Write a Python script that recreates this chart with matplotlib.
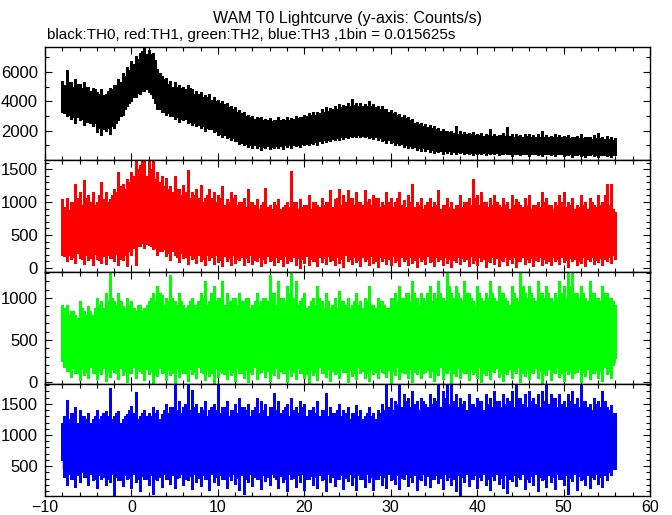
import numpy as np
import matplotlib
matplotlib.use("Agg")
import matplotlib.pyplot as plt
from matplotlib.ticker import MultipleLocator

plt.rcParams['font.family'] = ['Liberation Sans', 'DejaVu Sans']

# ---------------- data ----------------
# spike envelopes every 0.5 s (max / min in each slot), t = -8 ... 56
spike_t = np.arange(-8.0, 56.001, 0.5)
# secondary spikes between them, t = -7.75 ... 55.75
mid_t = np.arange(-7.75, 55.76, 0.5)
# dense core band every 2 s
core_t = np.arange(-8.0, 56.001, 2.0)

# ---- TH0 (black) ----
th0_hi = [5400, 6100, 5300, 5500, 5200, 5300, 5000, 4900, 4600, 4800,
          4500, 4900, 5100, 5500, 5900, 6300, 6700, 7100, 7300, 7650,
          7500, 7300, 6200, 5700, 5600, 5400, 5300, 5100, 5000, 5100,
          4800, 4700, 4600, 4400, 4500, 4300, 4100, 4000, 3900, 3700,
          3600, 3400, 3300, 3100, 3000, 2900, 2950, 2800, 2850, 2750,
          2900, 2800, 2900, 2850, 3000, 2950, 3100, 3200, 3300, 3250,
          3500, 3600, 3550, 3700, 3800, 3750, 3900, 4150, 3850, 3900,
          3800, 4050, 3800, 3700, 3650, 3500, 3400, 3300, 3150, 3050,
          2900, 2800, 2600, 2500, 2450, 2400, 2300, 2200, 2100, 2000,
          2000, 2300, 1950, 1900, 1850, 1900, 1800, 1850, 1750, 2100,
          1800, 1700, 1850, 2250, 1750, 1800, 1700, 1750, 1800, 1700,
          1750, 1950, 1700, 1650, 1750, 1700, 1650, 1700, 1600, 1650,
          1750, 1600, 1550, 1700, 1850, 1600, 1650, 1550, 1500]
th0_lo = [3300, 3000, 2800, 2500, 2700, 2400, 2600, 2300, 1900, 1700,
          2000, 1800, 2200, 2700, 3100, 3700, 4000, 4300, 4500, 4700,
          4600, 4200, 3500, 3300, 3100, 3000, 2800, 2600, 2700, 2500,
          2400, 2300, 2200, 2000, 2100, 1900, 1700, 1600, 1500, 1400,
          1300, 1100, 1000, 900, 850, 800, 700, 850, 750, 800,
          850, 750, 900, 800, 950, 900, 1000, 1050, 1100, 1050,
          1200, 1250, 1300, 1350, 1400, 1450, 1500, 1550, 1600, 1550,
          1600, 1500, 1450, 1400, 1300, 1200, 1150, 1050, 1000, 900,
          850, 800, 700, 650, 600, 550, 500, 550, 450, 500,
          400, 450, 500, 400, 450, 350, 450, 400, 350, 450,
          400, 350, 450, 400, 300, 400, 350, 450, 300, 400,
          350, 300, 400, 350, 300, 400, 300, 350, 250, 350,
          300, 250, 350, 300, 250, 350, 300, 250, 350]
th0_mid_hi = [5100, 5300, 5000, 5200, 4900, 5000, 4700, 4800, 4500, 4400,
              4700, 4800, 5100, 5300, 5700, 6100, 6500, 6900, 7400, 7200,
              7200, 6800, 5900, 5500, 5200, 5000, 5000, 4900, 4800, 4900,
              4500, 4500, 4300, 4300, 4100, 4000, 3900, 3800, 3600, 3500,
              3300, 3200, 3000, 2900, 2800, 2850, 2700, 2700, 2650, 2700,
              2700, 2750, 2700, 2800, 2850, 2900, 3000, 3050, 3100, 3200,
              3300, 3350, 3450, 3500, 3600, 3700, 3650, 3750, 3700, 3650,
              3700, 3650, 3600, 3500, 3450, 3300, 3200, 3100, 2950, 2850,
              2700, 2550, 2450, 2350, 2250, 2200, 2100, 2000, 1950, 1900,
              1850, 1800, 1800, 1750, 1750, 1700, 1700, 1650, 1700, 1650,
              1650, 1700, 1650, 1650, 1600, 1650, 1600, 1650, 1600, 1600,
              1600, 1550, 1600, 1550, 1550, 1600, 1550, 1500, 1550, 1500,
              1500, 1550, 1450, 1500, 1500, 1450, 1450, 1400]
th0_mid_lo = [3200, 3100, 2900, 2900, 2800, 2600, 2500, 2500, 2200, 2100,
              2200, 2300, 2500, 3000, 3500, 3900, 4300, 4600, 4800, 4800,
              4500, 3900, 3500, 3300, 3200, 3000, 2900, 2800, 2800, 2600,
              2500, 2400, 2300, 2200, 2100, 2000, 1800, 1700, 1600, 1500,
              1300, 1200, 1100, 1000, 1000, 950, 900, 950, 900, 950,
              950, 1000, 1000, 1000, 1050, 1100, 1100, 1200, 1250, 1300,
              1350, 1400, 1450, 1500, 1550, 1600, 1650, 1650, 1700, 1650,
              1650, 1600, 1550, 1500, 1400, 1350, 1250, 1200, 1100, 1050,
              950, 900, 850, 800, 750, 700, 650, 650, 600, 600,
              550, 550, 550, 500, 500, 500, 500, 480, 480, 500,
              480, 450, 480, 450, 450, 430, 450, 430, 420, 450,
              420, 400, 420, 400, 420, 400, 380, 400, 380, 400,
              380, 380, 400, 360, 380, 360, 380, 360]
th0_core_hi = [4900, 4700, 4200, 4500, 6100, 6900, 4900, 4600, 4200, 3700,
               3200, 2600, 2450, 2550, 2750, 3100, 3350, 3450, 3350, 3000,
               2550, 2150, 1800, 1650, 1600, 1550, 1550, 1500, 1500, 1450,
               1400, 1400, 1350]
th0_core_lo = [3600, 3100, 2600, 2800, 4300, 4900, 3500, 3100, 2700, 2100,
               1600, 1200, 1100, 1200, 1300, 1500, 1700, 1800, 1700, 1450,
               1150, 900, 750, 650, 600, 600, 550, 550, 520, 500,
               500, 480, 480]

# ---- TH1 (red) ----
th1_hi = [1050, 1060, 1000, 1280, 1150, 1330, 1100, 1150, 1000, 1300,
          1150, 1050, 1200, 1450, 1280, 1350, 1450, 1650, 1560, 1650,
          1650, 1650, 1450, 1400, 1360, 1250, 1400, 1200, 1260, 1480,
          1160, 1200, 1260, 1060, 1200, 1150, 1100, 1250, 1050, 1150,
          1100, 1000, 1060, 1200, 1000, 1050, 960, 1210, 950, 1000,
          1050, 930, 1000, 1470, 1000, 1050, 960, 1100, 1000, 950,
          1060, 1000, 1180, 1050, 1200, 1100, 1180, 1060, 1150, 1000,
          1180, 1050, 1100, 1060, 1000, 1150, 1060, 1000, 1150, 1030,
          1100, 1270, 1000, 1060, 950, 1060, 1000, 1180, 950, 1060,
          1000, 960, 1100, 1000, 1060, 1350, 1100, 1160, 1000, 1060,
          1100, 960, 1060, 1000, 1100, 1050, 960, 1060, 1100, 950,
          1000, 1150, 1060, 960, 1000, 1100, 1160, 1000, 1060, 950,
          1100, 1000, 1060, 960, 1100, 1000, 1280, 1280, 850]
th1_lo = [200, 100, 130, 70, 150, 60, 120, 50, 140, 80,
          60, 150, 100, 50, 120, 30, 200, 40, 330, 300,
          350, 280, 200, 250, 180, 120, 200, 90, 150, 60,
          130, 80, 100, 40, 120, 60, 90, 30, 110, 50,
          80, 120, 40, 90, 60, 100, 30, 80, 110, 50,
          90, 30, 70, 100, 40, 0, 80, 50, 100, 30,
          90, 60, 110, 40, 80, 20, 100, 60, 90, 30,
          110, 50, 80, 20, 100, 60, 40, 90, 30, 110,
          50, 80, 20, 100, 60, 90, 30, 110, 40, 80,
          10, 90, 60, 100, 30, 80, 50, 110, 20, 90,
          60, 30, 100, 50, 80, 20, 110, 60, 90, 30,
          100, 50, 80, 40, 110, 60, 90, 20, 100, 50,
          80, 30, 110, 60, 90, 40, 100, 70, 130]
th1_mid_hi = [920, 880, 1000, 1060, 960, 1060, 1000, 960, 1100, 1050,
              1000, 1100, 1160, 1250, 1200, 1300, 1400, 1500, 1650, 1400,
              1500, 1350, 1300, 1250, 1200, 1160, 1200, 1100, 1150, 1060,
              1100, 1060, 1000, 1100, 1060, 1000, 1060, 960, 1000, 1060,
              960, 1000, 930, 1000, 960, 900, 1000, 930, 900, 960,
              900, 960, 930, 1000, 900, 930, 960, 900, 1000, 930,
              960, 1000, 930, 1060, 960, 1000, 1060, 960, 1000, 960,
              1000, 960, 1060, 930, 960, 1000, 930, 1060, 960, 930,
              1000, 930, 960, 900, 1000, 930, 960, 900, 960, 930,
              900, 960, 930, 1000, 960, 1060, 960, 1000, 930, 960,
              1000, 930, 960, 900, 960, 1000, 930, 960, 900, 960,
              930, 1000, 960, 900, 960, 1000, 930, 960, 900, 930,
              960, 900, 1000, 930, 960, 1100, 960, 900]
th1_mid_lo = [180, 200, 160, 220, 130, 190, 150, 210, 120, 180,
              200, 150, 210, 130, 190, 250, 300, 330, 380, 370,
              330, 300, 260, 280, 220, 250, 170, 230, 160, 200,
              150, 200, 130, 190, 160, 200, 120, 180, 150, 190,
              130, 170, 150, 190, 120, 170, 140, 180, 120, 160,
              140, 180, 120, 170, 150, 130, 180, 140, 110, 170,
              150, 180, 120, 160, 140, 190, 130, 170, 120, 160,
              140, 180, 110, 170, 150, 130, 180, 120, 160, 140,
              170, 120, 160, 140, 180, 110, 160, 130, 170, 140,
              120, 170, 150, 130, 180, 120, 160, 140, 110, 170,
              150, 120, 170, 140, 160, 110, 170, 130, 150, 120,
              160, 140, 110, 170, 130, 160, 120, 150, 140, 110,
              170, 130, 160, 120, 150, 140, 160, 200]
th1_core_hi = [800, 850, 850, 900, 1050, 1150, 1000, 950, 900, 880,
               850, 820, 800, 820, 800, 820, 850, 860, 850, 840,
               830, 800, 800, 800, 820, 800, 800, 790, 790, 790,
               780, 780, 750]
th1_core_lo = [300, 280, 280, 300, 400, 430, 350, 300, 280, 270,
               260, 250, 250, 250, 250, 250, 260, 260, 260, 250,
               250, 240, 240, 240, 240, 240, 240, 240, 230, 230,
               230, 230, 250]

# ---- TH2 (green) ----
th2_hi = [920, 920, 840, 800, 960, 840, 900, 800, 1000, 960,
          1060, 1315, 960, 1060, 900, 1000, 960, 840, 920, 880,
          960, 1060, 1140, 1040, 1000, 1280, 960, 1060, 920, 920,
          1000, 920, 1060, 1200, 960, 1140, 1000, 1200, 1060, 960,
          1000, 1060, 960, 1000, 920, 1060, 960, 1000, 1280, 1060,
          1200, 1000, 1140, 1315, 1200, 960, 1060, 900, 1000, 1140,
          960, 1060, 880, 1000, 1080, 960, 1000, 920, 1060, 960,
          1000, 1140, 920, 1000, 960, 880, 1000, 1060, 1140, 1000,
          1060, 1200, 1000, 1060, 960, 1140, 1060, 1200, 1000, 1315,
          1060, 1140, 1000, 1200, 1060, 960, 1140, 1000, 1060, 1200,
          1000, 1140, 1060, 960, 1140, 1000, 1315, 1060, 1140, 1000,
          1200, 1060, 1140, 1000, 1060, 1200, 1140, 1315, 1315, 1060,
          1140, 1000, 1200, 1060, 1000, 1140, 1060, 1000, 920]
th2_lo = [250, 130, 60, 100, 20, 80, 40, 110, 30, 90,
          10, 60, 120, 30, 80, 0, 100, 50, 130, 20,
          90, -30, 70, 110, 20, 80, -30, 60, 100, 10,
          90, 40, 120, 20, 70, -30, 60, 100, 30, 80,
          10, 110, 50, 0, 90, 30, 120, 60, 10, 80,
          40, 100, 0, 70, 30, 110, 50, -30, 80, 20,
          100, 60, 10, 90, 40, 120, 0, 70, 30, 100,
          50, 10, 90, 40, 120, 60, -30, 80, 30, 110,
          50, 0, 90, 40, 120, 60, 10, 80, 30, 100,
          -20, 70, 40, 110, 20, 90, 50, 0, 80, 30,
          120, 60, 10, 90, 40, 110, 0, 70, 30, 100,
          50, -30, 80, 20, 110, 60, 10, 90, 40, 120,
          0, 70, 30, 100, 50, 10, 90, 40, 280]
th2_mid_hi = [880, 800, 840, 760, 880, 800, 840, 880, 920, 880,
              960, 1000, 920, 960, 880, 920, 880, 920, 840, 920,
              1000, 960, 1060, 920, 960, 1000, 920, 960, 880, 960,
              920, 960, 1000, 920, 1060, 960, 1000, 920, 960, 1000,
              920, 960, 1000, 880, 960, 920, 1000, 960, 1060, 920,
              1000, 960, 1060, 1000, 920, 1000, 880, 960, 920, 1000,
              880, 960, 920, 880, 960, 920, 880, 960, 920, 880,
              960, 920, 880, 960, 920, 880, 1000, 960, 1000, 1060,
              960, 1060, 920, 1000, 1060, 960, 1000, 1060, 960, 1140,
              1000, 1060, 960, 1060, 1000, 920, 1060, 960, 1000, 1060,
              960, 1060, 1000, 920, 1060, 960, 1140, 1000, 1060, 960,
              1060, 1000, 1060, 960, 1000, 1060, 1000, 1140, 1060, 1000,
              1060, 960, 1060, 1000, 960, 1060, 1000, 960]
th2_mid_lo = [170, 130, 160, 110, 150, 120, 170, 100, 140, 160,
              120, 150, 100, 160, 130, 110, 170, 140, 100, 150,
              130, 90, 160, 120, 140, 100, 160, 130, 110, 150,
              120, 170, 100, 140, 110, 160, 130, 90, 150, 120,
              160, 110, 140, 120, 170, 100, 150, 130, 110, 160,
              130, 100, 150, 120, 160, 110, 90, 140, 120, 170,
              110, 150, 130, 100, 160, 120, 140, 110, 170, 130,
              100, 150, 120, 160, 110, 140, 130, 170, 120, 100,
              150, 120, 160, 110, 140, 130, 100, 170, 120, 150,
              110, 160, 130, 100, 150, 120, 170, 110, 140, 130,
              160, 120, 100, 150, 130, 170, 110, 140, 120, 160,
              130, 100, 150, 120, 170, 110, 140, 130, 100, 160,
              120, 150, 110, 140, 130, 170, 120, 200]
th2_core_hi = [700, 720, 740, 760, 740, 760, 770, 750, 770, 780,
               770, 770, 780, 790, 770, 770, 760, 760, 760, 780,
               800, 800, 810, 800, 800, 810, 800, 810, 800, 810,
               800, 800, 780]
th2_core_lo = [250, 220, 210, 200, 200, 200, 200, 200, 200, 200,
               200, 200, 200, 200, 200, 200, 200, 200, 200, 210,
               210, 210, 210, 210, 210, 210, 210, 210, 210, 210,
               210, 210, 230]

# ---- TH3 (blue) ----
th3_hi = [1200, 1560, 1350, 1450, 1400, 1300, 1350, 1250, 1400, 1300,
          1380, 1750, 1300, 1380, 1250, 1330, 1460, 1690, 1300, 1400,
          1350, 1450, 1400, 1330, 1500, 1450, 1800, 1550, 1450, 1800,
          1725, 1500, 1450, 1550, 1400, 1500, 1800, 1450, 1550, 1400,
          1500, 1600, 1450, 1500, 1400, 1600, 1550, 1500, 1450, 1670,
          1550, 1400, 1500, 1600, 1450, 1550, 1500, 1400, 1450, 1550,
          1400, 1670, 1450, 1350, 1500, 1400, 1450, 1350, 1480, 1400,
          1300, 1450, 1350, 1400, 1500, 1800, 1600, 1550, 1800, 1650,
          1600, 1700, 1550, 1600, 1500, 1650, 1600, 1800, 1700, 1800,
          1800, 1650, 1600, 1550, 1650, 1500, 1600, 1550, 1650, 1600,
          1700, 1550, 1650, 1600, 1700, 1800, 1600, 1650, 1700, 1600,
          1650, 1700, 1800, 1650, 1600, 1650, 1550, 1650, 1700, 1600,
          1800, 1550, 1500, 1600, 1550, 1700, 1450, 1480, 1350]
th3_lo = [600, 200, 300, 170, 250, 330, 200, 280, 150, 300,
          200, 250, 30, 280, 180, 300, 150, 250, 100, 300,
          200, 60, 280, 170, 300, 220, 150, 320, 200, 280,
          130, 250, 180, 300, 120, 250, 200, 300, 150, 280,
          220, 120, 60, 250, 180, 300, 140, 260, 200, 320,
          150, 240, 100, 290, 170, 250, 120, 300, 200, 150,
          280, 100, 250, 180, 300, 140, 260, 200, 120, 290,
          170, 250, 110, 300, 200, 150, 280, 220, 130, 300,
          180, 250, 120, 280, 200, 160, 300, 230, 140, 280,
          190, 100, 30, 250, 180, 300, 150, 270, 200, 120,
          280, 220, 150, 70, 260, 180, 300, 130, 250, 200,
          100, 280, 170, 250, 140, 300, 200, 60, 260, 120,
          280, 200, 150, 300, 220, 170, 280, 350, 450]
th3_mid_hi = [1300, 1250, 1350, 1200, 1300, 1250, 1200, 1300, 1250, 1350,
              1300, 1250, 1350, 1200, 1300, 1400, 1350, 1250, 1350, 1300,
              1300, 1350, 1250, 1400, 1350, 1450, 1400, 1350, 1500, 1400,
              1450, 1350, 1400, 1300, 1450, 1400, 1350, 1450, 1300, 1400,
              1350, 1450, 1400, 1300, 1450, 1350, 1400, 1300, 1450, 1400,
              1350, 1450, 1300, 1400, 1350, 1450, 1300, 1400, 1350, 1300,
              1400, 1300, 1350, 1400, 1300, 1350, 1250, 1350, 1300, 1250,
              1350, 1300, 1250, 1350, 1400, 1450, 1400, 1500, 1450, 1550,
              1450, 1500, 1400, 1550, 1450, 1500, 1550, 1450, 1600, 1500,
              1550, 1450, 1500, 1400, 1500, 1450, 1550, 1400, 1500, 1450,
              1550, 1450, 1500, 1550, 1450, 1600, 1500, 1450, 1550, 1500,
              1450, 1550, 1500, 1600, 1450, 1500, 1450, 1550, 1500, 1450,
              1550, 1450, 1400, 1500, 1450, 1550, 1400, 1350]
th3_mid_lo = [330, 380, 300, 350, 400, 320, 370, 290, 350, 330,
              300, 370, 330, 280, 360, 310, 380, 300, 340, 290,
              360, 300, 330, 380, 290, 350, 310, 370, 300, 340,
              380, 310, 350, 290, 370, 320, 360, 300, 340, 380,
              310, 350, 290, 370, 330, 300, 360, 320, 380, 300,
              340, 290, 370, 310, 350, 380, 300, 340, 320, 360,
              300, 370, 330, 290, 360, 310, 380, 320, 350, 300,
              370, 320, 290, 360, 330, 380, 300, 350, 310, 370,
              320, 360, 300, 380, 340, 290, 350, 310, 370, 330,
              300, 360, 320, 380, 290, 350, 330, 370, 300, 340,
              380, 310, 350, 290, 360, 330, 370, 300, 340, 380,
              320, 290, 360, 330, 380, 300, 350, 310, 370, 340,
              300, 360, 330, 380, 320, 350, 400, 450]
th3_core_hi = [1050, 1100, 1100, 1100, 1120, 1100, 1150, 1150, 1150, 1150,
               1150, 1150, 1150, 1150, 1150, 1150, 1130, 1130, 1130, 1180,
               1200, 1200, 1200, 1200, 1200, 1200, 1200, 1200, 1200, 1200,
               1180, 1180, 1150]
th3_core_lo = [450, 400, 400, 400, 400, 400, 420, 420, 420, 420,
               420, 420, 420, 420, 420, 420, 420, 420, 420, 430,
               430, 430, 430, 430, 430, 430, 430, 430, 430, 430,
               430, 430, 450]

colors = ['black', '#ff0000', '#00ff00', '#0000ff']
ylims = [(45, 7660), (-60, 1646), (-28, 1314), (16, 1817)]
ymajor = [2000, 500, 500, 500]
yminor = [1000, 100, 100, 100]
x_ticks = [-10, 0, 10, 20, 30, 40, 50, 60]

series = [
    (th0_hi, th0_lo, th0_mid_hi, th0_mid_lo, th0_core_hi, th0_core_lo),
    (th1_hi, th1_lo, th1_mid_hi, th1_mid_lo, th1_core_hi, th1_core_lo),
    (th2_hi, th2_lo, th2_mid_hi, th2_mid_lo, th2_core_hi, th2_core_lo),
    (th3_hi, th3_lo, th3_mid_hi, th3_mid_lo, th3_core_hi, th3_core_lo),
]

W, H = 672, 515
fig = plt.figure(figsize=(W / 100, H / 100), dpi=100)

left_px, right_px = 45, 650
top_px = 47.3
panel_h = 112.25

for i, (hi, lo, mhi, mlo, chi, clo) in enumerate(series):
    top = top_px + i * panel_h
    bottom = top + panel_h
    ax = fig.add_axes([left_px / W, 1 - bottom / H,
                       (right_px - left_px) / W, panel_h / H])
    c = colors[i]
    ax.fill_between(core_t, clo, chi, color=c, lw=0)
    ax.vlines(mid_t, mlo, mhi, colors=c, lw=1.0, antialiased=False)
    ax.vlines(spike_t, lo, hi, colors=c, lw=1.0, antialiased=False)
    ax.set_xlim(-10, 60)
    ax.set_ylim(*ylims[i])
    ax.xaxis.set_major_locator(MultipleLocator(10))
    ax.xaxis.set_minor_locator(MultipleLocator(2))
    ax.yaxis.set_major_locator(MultipleLocator(ymajor[i]))
    ax.yaxis.set_minor_locator(MultipleLocator(yminor[i]))
    ax.tick_params(which='both', direction='in', top=True, right=True,
                   width=0.8)
    ax.tick_params(axis='y', labelsize=12, pad=5)
    ax.tick_params(axis='x', labelsize=11.5, pad=2.5)
    ax.tick_params(which='major', length=5)
    ax.tick_params(which='minor', length=3)
    for s in ax.spines.values():
        s.set_linewidth(1.0)
    if i < 3:
        ax.set_xticklabels([])
    else:
        ax.set_xticks(x_ticks)

fig.text((left_px + right_px) / 2 / W, 1 - 18 / H,
         'WAM T0 Lightcurve (y-axis: Counts/s)',
         ha='center', va='center', fontsize=11.5)
fig.text(47 / W, 1 - 35 / H,
         'black:TH0, red:TH1, green:TH2, blue:TH3 ,1bin = 0.015625s',
         ha='left', va='center', fontsize=11)

fig.savefig('out.png', dpi=100)
